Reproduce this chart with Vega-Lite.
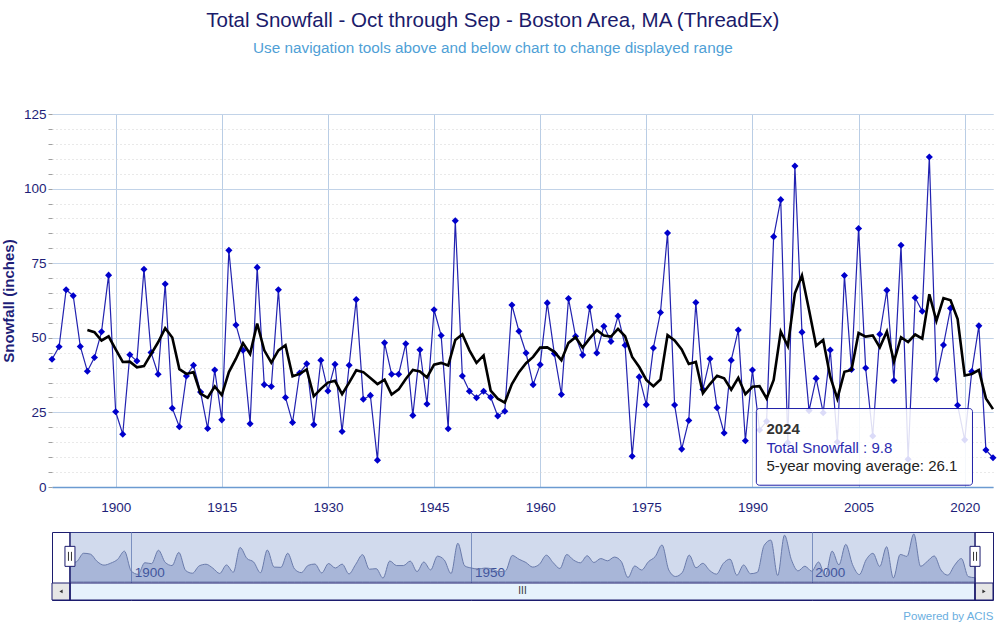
{
  "$schema": "https://vega.github.io/schema/vega-lite/v6.json",
  "padding": {"left": 1, "top": 11, "right": 0, "bottom": 0},
  "background": "white",
  "config": {"font": "Liberation Sans", "view": {"stroke": null}},
  "title": {
    "text": "Total Snowfall  - Oct through Sep - Boston Area, MA (ThreadEx)",
    "subtitle": "Use navigation tools above and below chart to change displayed range",
    "anchor": "middle",
    "dx": -7,
    "fontSize": 20.5,
    "fontWeight": "normal",
    "color": "#1b1b6b",
    "subtitleFontSize": 15.3,
    "subtitleColor": "#4f9fd6",
    "subtitlePadding": 9,
    "offset": 51
  },
  "datasets": {
    "snow": [
      {"year": 1891, "snow": 42.8},
      {"year": 1892, "snow": 47.0},
      {"year": 1893, "snow": 66.1},
      {"year": 1894, "snow": 64.1},
      {"year": 1895, "snow": 47.1},
      {"year": 1896, "snow": 38.8, "ma": 52.6},
      {"year": 1897, "snow": 43.4, "ma": 51.9},
      {"year": 1898, "snow": 52.0, "ma": 49.1},
      {"year": 1899, "snow": 71.0, "ma": 50.5},
      {"year": 1900, "snow": 25.2, "ma": 46.1},
      {"year": 1901, "snow": 17.7, "ma": 41.9},
      {"year": 1902, "snow": 44.3, "ma": 42.0},
      {"year": 1903, "snow": 42.2, "ma": 40.1},
      {"year": 1904, "snow": 73.0, "ma": 40.5},
      {"year": 1905, "snow": 45.1, "ma": 44.5},
      {"year": 1906, "snow": 37.8, "ma": 48.5},
      {"year": 1907, "snow": 68.0, "ma": 53.2},
      {"year": 1908, "snow": 26.4, "ma": 50.1},
      {"year": 1909, "snow": 20.2, "ma": 39.5},
      {"year": 1910, "snow": 37.2, "ma": 37.9},
      {"year": 1911, "snow": 40.8, "ma": 38.5},
      {"year": 1912, "snow": 31.8, "ma": 31.3},
      {"year": 1913, "snow": 19.6, "ma": 29.9},
      {"year": 1914, "snow": 39.2, "ma": 33.7},
      {"year": 1915, "snow": 22.5, "ma": 30.8},
      {"year": 1916, "snow": 79.3, "ma": 38.5},
      {"year": 1917, "snow": 54.3, "ma": 43.0},
      {"year": 1918, "snow": 45.8, "ma": 48.2},
      {"year": 1919, "snow": 21.2, "ma": 44.6},
      {"year": 1920, "snow": 73.6, "ma": 54.8},
      {"year": 1921, "snow": 34.3, "ma": 45.8},
      {"year": 1922, "snow": 33.7, "ma": 41.7},
      {"year": 1923, "snow": 66.1, "ma": 45.8},
      {"year": 1924, "snow": 30.0, "ma": 47.5},
      {"year": 1925, "snow": 21.6, "ma": 37.1},
      {"year": 1926, "snow": 38.2, "ma": 37.9},
      {"year": 1927, "snow": 41.3, "ma": 39.4},
      {"year": 1928, "snow": 20.9, "ma": 30.4},
      {"year": 1929, "snow": 42.5, "ma": 32.9},
      {"year": 1930, "snow": 32.2, "ma": 35.0},
      {"year": 1931, "snow": 41.1, "ma": 35.6},
      {"year": 1932, "snow": 18.6, "ma": 31.1},
      {"year": 1933, "snow": 40.8, "ma": 35.0},
      {"year": 1934, "snow": 62.8, "ma": 39.1},
      {"year": 1935, "snow": 29.4, "ma": 38.5},
      {"year": 1936, "snow": 30.7, "ma": 36.5},
      {"year": 1937, "snow": 9.0, "ma": 34.5},
      {"year": 1938, "snow": 48.3, "ma": 36.0},
      {"year": 1939, "snow": 37.8, "ma": 31.0},
      {"year": 1940, "snow": 37.8, "ma": 32.7},
      {"year": 1941, "snow": 48.0, "ma": 36.2},
      {"year": 1942, "snow": 24.0, "ma": 39.2},
      {"year": 1943, "snow": 46.0, "ma": 38.7},
      {"year": 1944, "snow": 27.8, "ma": 36.7},
      {"year": 1945, "snow": 59.4, "ma": 41.0},
      {"year": 1946, "snow": 50.8, "ma": 41.6},
      {"year": 1947, "snow": 19.5, "ma": 40.7},
      {"year": 1948, "snow": 89.2, "ma": 49.3},
      {"year": 1949, "snow": 37.2, "ma": 51.2},
      {"year": 1950, "snow": 32.1, "ma": 45.8},
      {"year": 1951, "snow": 29.9, "ma": 41.6},
      {"year": 1952, "snow": 32.1, "ma": 44.1},
      {"year": 1953, "snow": 30.1, "ma": 32.3},
      {"year": 1954, "snow": 23.8, "ma": 29.6},
      {"year": 1955, "snow": 25.4, "ma": 28.3},
      {"year": 1956, "snow": 61.0, "ma": 34.5},
      {"year": 1957, "snow": 52.2, "ma": 38.5},
      {"year": 1958, "snow": 44.9, "ma": 41.5},
      {"year": 1959, "snow": 34.3, "ma": 43.6},
      {"year": 1960, "snow": 41.0, "ma": 46.7},
      {"year": 1961, "snow": 61.7, "ma": 46.8},
      {"year": 1962, "snow": 44.7, "ma": 45.3},
      {"year": 1963, "snow": 31.0, "ma": 42.5},
      {"year": 1964, "snow": 63.2, "ma": 48.3},
      {"year": 1965, "snow": 50.5, "ma": 50.2},
      {"year": 1966, "snow": 44.2, "ma": 46.7},
      {"year": 1967, "snow": 60.3, "ma": 49.8},
      {"year": 1968, "snow": 44.9, "ma": 52.6},
      {"year": 1969, "snow": 53.9, "ma": 50.8},
      {"year": 1970, "snow": 48.8, "ma": 50.4},
      {"year": 1971, "snow": 57.3, "ma": 53.0},
      {"year": 1972, "snow": 47.5, "ma": 50.5},
      {"year": 1973, "snow": 10.3, "ma": 43.6},
      {"year": 1974, "snow": 36.9, "ma": 40.2},
      {"year": 1975, "snow": 27.6, "ma": 35.9},
      {"year": 1976, "snow": 46.6, "ma": 33.8},
      {"year": 1977, "snow": 58.5, "ma": 36.0},
      {"year": 1978, "snow": 85.1, "ma": 50.9},
      {"year": 1979, "snow": 27.5, "ma": 49.1},
      {"year": 1980, "snow": 12.7, "ma": 46.1},
      {"year": 1981, "snow": 22.3, "ma": 41.2},
      {"year": 1982, "snow": 61.8, "ma": 41.9},
      {"year": 1983, "snow": 32.7, "ma": 31.4},
      {"year": 1984, "snow": 43.0, "ma": 34.5},
      {"year": 1985, "snow": 26.6, "ma": 37.3},
      {"year": 1986, "snow": 18.1, "ma": 36.4},
      {"year": 1987, "snow": 42.5, "ma": 32.6},
      {"year": 1988, "snow": 52.6, "ma": 36.6},
      {"year": 1989, "snow": 15.5, "ma": 31.1},
      {"year": 1990, "snow": 39.2, "ma": 33.6},
      {"year": 1991, "snow": 19.1, "ma": 33.8},
      {"year": 1992, "snow": 22.0, "ma": 29.7},
      {"year": 1993, "snow": 83.9, "ma": 35.9},
      {"year": 1994, "snow": 96.3, "ma": 52.1},
      {"year": 1995, "snow": 14.9, "ma": 47.2},
      {"year": 1996, "snow": 107.6, "ma": 64.9},
      {"year": 1997, "snow": 51.9, "ma": 70.9},
      {"year": 1998, "snow": 25.6, "ma": 59.3},
      {"year": 1999, "snow": 36.4, "ma": 47.3},
      {"year": 2000, "snow": 24.9, "ma": 49.3},
      {"year": 2001, "snow": 45.9, "ma": 36.9},
      {"year": 2002, "snow": 15.1, "ma": 29.6},
      {"year": 2003, "snow": 70.9, "ma": 38.6},
      {"year": 2004, "snow": 39.4, "ma": 39.2},
      {"year": 2005, "snow": 86.6, "ma": 51.6},
      {"year": 2006, "snow": 39.9, "ma": 50.4},
      {"year": 2007, "snow": 17.1, "ma": 50.8},
      {"year": 2008, "snow": 51.2, "ma": 46.8},
      {"year": 2009, "snow": 65.9, "ma": 52.1},
      {"year": 2010, "snow": 35.7, "ma": 42.0},
      {"year": 2011, "snow": 81.0, "ma": 50.2},
      {"year": 2012, "snow": 9.3, "ma": 48.6},
      {"year": 2013, "snow": 63.4, "ma": 51.1},
      {"year": 2014, "snow": 58.9, "ma": 49.7},
      {"year": 2015, "snow": 110.6, "ma": 64.6},
      {"year": 2016, "snow": 36.1, "ma": 55.7},
      {"year": 2017, "snow": 47.6, "ma": 63.3},
      {"year": 2018, "snow": 59.9, "ma": 62.6},
      {"year": 2019, "snow": 27.4, "ma": 56.3},
      {"year": 2020, "snow": 15.8, "ma": 37.4},
      {"year": 2021, "snow": 38.7, "ma": 37.9},
      {"year": 2022, "snow": 54.0, "ma": 39.2},
      {"year": 2023, "snow": 12.4, "ma": 29.7},
      {"year": 2024, "snow": 9.8, "ma": 26.1}
    ]
  },
  "spacing": 16,
  "vconcat": [
    {
      "width": 941,
      "height": 373,
      "view": {"stroke": null},
      "resolve": {"axis": {"y": "independent"}},
      "layer": [
        {
          "data": {"values": [{}]},
          "mark": {"type": "rule", "opacity": 0},
          "encoding": {
            "y": {
              "datum": 0, "type": "quantitative",
              "scale": {"domain": [0, 125], "nice": false, "zero": true},
              "axis": {
                "orient": "left",
                "values": [5, 10, 15, 20, 30, 35, 40, 45, 55, 60, 65, 70, 80, 85, 90, 95, 105, 110, 115, 120, 0, 25, 50, 75, 100, 125],
                "labels": false, "domain": false, "title": null,
                "ticks": true, "tickSize": 4, "tickColor": "#a0a0a0",
                "grid": true, "gridColor": "#d2d2d2", "gridDash": [1, 3]
              }
            }
          }
        },
        {
          "data": {"name": "snow"},
          "mark": {"type": "line", "color": "#2222b0", "strokeWidth": 1.2},
          "encoding": {
            "x": {
              "field": "year", "type": "quantitative",
              "scale": {"domain": [1891, 2024], "nice": false, "zero": false},
              "axis": {
                "values": [1900, 1915, 1930, 1945, 1960, 1975, 1990, 2005, 2020],
                "format": "d", "title": null,
                "labelColor": "#1e1e78", "labelFontSize": 13.5, "labelPadding": 13,
                "ticks": false, "domain": true, "domainColor": "#6b9bd1", "domainWidth": 1.5,
                "grid": true, "gridColor": "#b9cde5", "gridWidth": 1
              }
            },
            "y": {
              "field": "snow", "type": "quantitative",
              "axis": {
                "orient": "left",
                "values": [0, 25, 50, 75, 100, 125],
                "format": "d",
                "labelColor": "#1e1e78", "labelFontSize": 13.5, "labelPadding": 6,
                "ticks": false, "domain": false,
                "grid": true, "gridColor": "#c2d3e8", "gridWidth": 1,
                "title": "Snowfall (inches)", "titleFontSize": 15, "titleFontWeight": "bold",
                "titleColor": "#1e1e78", "titlePadding": 7
              }
            }
          }
        },
        {
          "data": {"name": "snow"},
          "mark": {"type": "point", "shape": "diamond", "filled": true, "color": "#0000cc", "size": 50, "opacity": 1},
          "encoding": {
            "x": {"field": "year", "type": "quantitative"},
            "y": {"field": "snow", "type": "quantitative", "axis": null}
          }
        },
        {
          "data": {"name": "snow"},
          "mark": {"type": "line", "color": "#000000", "strokeWidth": 2.6},
          "encoding": {
            "x": {"field": "year", "type": "quantitative"},
            "y": {"field": "ma", "type": "quantitative", "axis": null}
          }
        },
        {
          "data": {"values": [{}]},
          "mark": {"type": "rect", "fill": "#ffffff", "fillOpacity": 0.86, "stroke": "#1f1fa8", "strokeWidth": 1, "cornerRadius": 3},
          "encoding": {
            "x": {"datum": 1990.55}, "x2": {"datum": 2021.1},
            "y": {"datum": 0.6, "axis": null}, "y2": {"datum": 26.3}
          }
        },
        {
          "data": {"values": [{}]},
          "mark": {"type": "text", "align": "left", "baseline": "middle", "fontSize": 15, "fontWeight": "bold", "color": "#333333"},
          "encoding": {"x": {"datum": 1991.97}, "y": {"datum": 19.6, "axis": null}, "text": {"value": "2024"}}
        },
        {
          "data": {"values": [{}]},
          "mark": {"type": "text", "align": "left", "baseline": "middle", "fontSize": 15, "color": "#2b2bb0"},
          "encoding": {"x": {"datum": 1991.97}, "y": {"datum": 13.2, "axis": null}, "text": {"value": "Total Snowfall : 9.8"}}
        },
        {
          "data": {"values": [{}]},
          "mark": {"type": "text", "align": "left", "baseline": "middle", "fontSize": 15, "color": "#222222"},
          "encoding": {"x": {"datum": 1991.97}, "y": {"datum": 6.9, "axis": null}, "text": {"value": "5-year moving average: 26.1"}}
        }
      ]
    },
    {
      "width": 941,
      "height": 68,
      "view": {"stroke": "#1c1c6e", "strokeWidth": 1},
      "title": {"text": "Powered by ACIS", "orient": "bottom", "anchor": "end", "fontSize": 11.5, "fontWeight": "normal", "color": "#6aaee0", "offset": 10},
      "layer": [
        {
          "data": {"values": [{}]},
          "mark": {"type": "rect", "fill": "#6685c2", "opacity": 0.3},
          "encoding": {
            "x": {
              "datum": 1891, "type": "quantitative",
              "scale": {"domain": [1888.36, 2026.64], "nice": false, "zero": false},
              "axis": {
                "values": [1900, 1950, 2000], "format": "d", "title": null,
                "ticks": false, "domain": false,
                "labelAlign": "left", "labelBaseline": "top", "labelPadding": -35, "labelOffset": 3,
                "labelColor": "#2e3a86", "labelFontSize": 13.5,
                "grid": true, "gridColor": "#8595bf", "gridWidth": 1
              }
            },
            "x2": {"datum": 2024},
            "y": {
              "datum": 0, "type": "quantitative",
              "scale": {"domain": [-41.4, 115], "nice": false, "zero": false},
              "axis": null
            },
            "y2": {"datum": 115}
          }
        },
        {
          "data": {"name": "snow"},
          "mark": {"type": "area", "interpolate": "monotone", "fill": "#4a64a8", "fillOpacity": 0.3, "stroke": "#6a7bab", "strokeWidth": 1},
          "encoding": {
            "x": {"field": "year", "type": "quantitative"},
            "y": {"field": "snow", "type": "quantitative"},
            "y2": {"datum": 0}
          }
        },
        {
          "data": {"values": [{}]},
          "mark": {"type": "rect", "fill": "#e6f2fc", "stroke": "#1c1c6e", "strokeWidth": 1},
          "encoding": {
            "x": {"datum": 1891}, "x2": {"datum": 2024},
            "y": {"datum": -41.4}, "y2": {"datum": -2.3}
          }
        },
        {
          "data": {"values": [{"a": 1888.36, "b": 1891}, {"a": 2024, "b": 2026.64}]},
          "mark": {"type": "rect", "fill": "#e6e6e6", "stroke": "#1c1c6e", "strokeWidth": 1},
          "encoding": {
            "x": {"field": "a", "type": "quantitative"}, "x2": {"field": "b"},
            "y": {"datum": -41.4}, "y2": {"datum": -2.3}
          }
        },
        {
          "data": {"values": [{}]},
          "mark": {"type": "point", "shape": "triangle-left", "filled": true, "color": "#333333", "size": 14, "opacity": 1},
          "encoding": {"x": {"datum": 1889.68}, "y": {"datum": -21.8}}
        },
        {
          "data": {"values": [{}]},
          "mark": {"type": "point", "shape": "triangle-right", "filled": true, "color": "#333333", "size": 14, "opacity": 1},
          "encoding": {"x": {"datum": 2025.32}, "y": {"datum": -21.8}}
        },
        {
          "data": {"values": [{}]},
          "mark": {"type": "text", "fontSize": 10, "color": "#333333", "baseline": "middle", "align": "center"},
          "encoding": {"x": {"datum": 1957.5}, "y": {"datum": -21.8}, "text": {"value": "III"}}
        },
        {
          "data": {"values": [{"yr": 1891}, {"yr": 2024}]},
          "mark": {"type": "rule", "color": "#1c1c6e", "strokeWidth": 1.5},
          "encoding": {"x": {"field": "yr", "type": "quantitative"}, "y": {"datum": -41.4}, "y2": {"datum": 115}}
        },
        {
          "data": {"values": [{"yr": 1891}, {"yr": 2024}]},
          "mark": {"type": "point", "shape": "M-0.5,-1H0.5V1H-0.5Z", "size": 400, "filled": true, "fill": "#ffffff", "stroke": "#1c1c6e", "strokeWidth": 1, "opacity": 1},
          "encoding": {"x": {"field": "yr", "type": "quantitative"}, "y": {"datum": 59}}
        },
        {
          "data": {"values": [{"yr": 1891}, {"yr": 2024}]},
          "mark": {"type": "point", "shape": "M-0.15,-0.45V0.45M0.15,-0.45V0.45", "size": 400, "filled": false, "stroke": "#333333", "strokeWidth": 1, "opacity": 1},
          "encoding": {"x": {"field": "yr", "type": "quantitative"}, "y": {"datum": 59}}
        }
      ]
    }
  ]
}
